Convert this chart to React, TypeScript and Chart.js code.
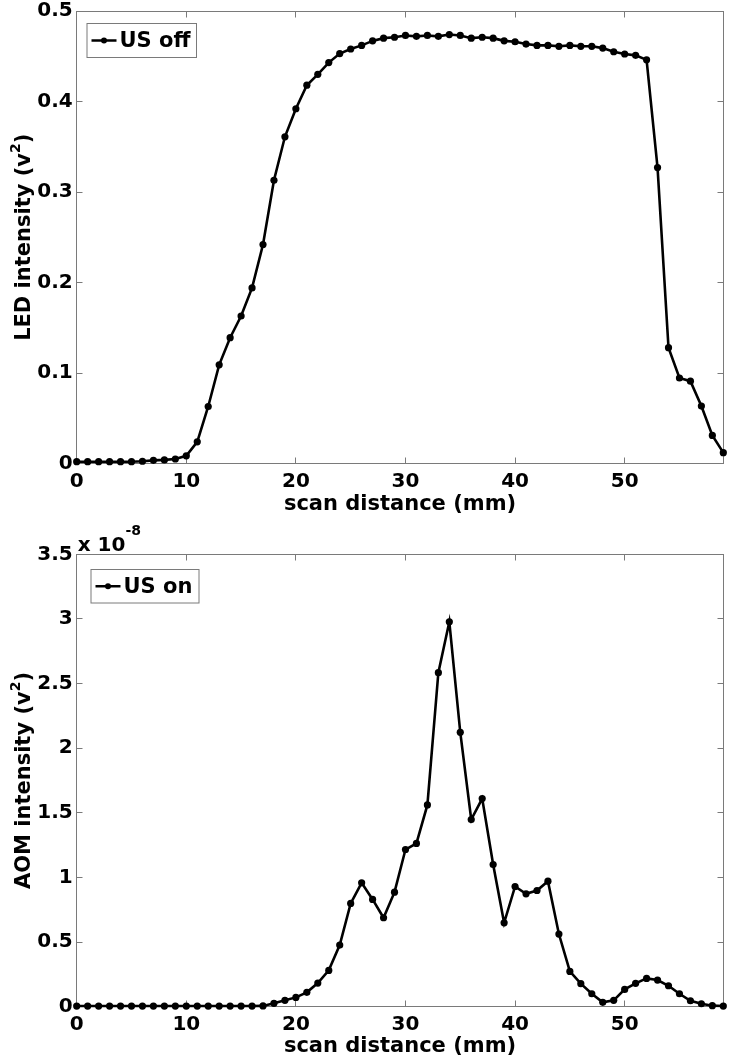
import React, { useEffect, useRef } from "react";
import { Chart, registerables } from "chart.js";

Chart.register(...registerables);

// ---------- data ----------
const scanDistanceMm = [
  0, 1, 2, 3, 4, 5, 6, 7, 8, 9, 10, 11, 12, 13, 14, 15, 16, 17, 18, 19,
  20, 21, 22, 23, 24, 25, 26, 27, 28, 29, 30, 31, 32, 33, 34, 35, 36, 37, 38, 39,
  40, 41, 42, 43, 44, 45, 46, 47, 48, 49, 50, 51, 52, 53, 54, 55, 56, 57, 58, 59,
];

// LED intensity (v^2), ultrasound off
const ledIntensityUsOff = [
  0.002, 0.002, 0.002, 0.002, 0.002, 0.002, 0.0025, 0.0035, 0.004, 0.005,
  0.0085, 0.024, 0.063, 0.109, 0.139, 0.163, 0.194, 0.242, 0.313, 0.361,
  0.392, 0.418, 0.43, 0.443, 0.453, 0.458, 0.462, 0.467, 0.47, 0.471,
  0.473, 0.472, 0.473, 0.472, 0.474, 0.473, 0.47, 0.471, 0.47, 0.467,
  0.466, 0.4635, 0.462, 0.462, 0.461, 0.462, 0.461, 0.461, 0.459, 0.455,
  0.4525, 0.451, 0.446, 0.327, 0.128, 0.0945, 0.091, 0.0635, 0.031, 0.012,
];

// AOM intensity (v^2) in units of 1e-8, ultrasound on
const aomIntensityUsOnE8 = [
  0.005, 0.005, 0.005, 0.005, 0.005, 0.005, 0.005, 0.005, 0.005, 0.005,
  0.005, 0.005, 0.005, 0.005, 0.005, 0.005, 0.005, 0.006, 0.026, 0.049,
  0.072, 0.111, 0.183, 0.281, 0.477, 0.799, 0.958, 0.83, 0.688, 0.886,
  1.216, 1.263, 1.561, 2.584, 2.978, 2.123, 1.448, 1.61, 1.1, 0.649,
  0.93, 0.873, 0.899, 0.971, 0.562, 0.273, 0.178, 0.1, 0.034, 0.049,
  0.134, 0.181, 0.219, 0.206, 0.162, 0.1, 0.046, 0.023, 0.008, 0.005,
];

const xTickValues = [0, 10, 20, 30, 40, 50];
const ledTickValues = [0, 0.1, 0.2, 0.3, 0.4, 0.5];
const aomTickValues = [0, 0.5, 1, 1.5, 2, 2.5, 3, 3.5];

const FONT = '"DejaVu Sans", "Liberation Sans", sans-serif';

type Part = { text: string; sup?: boolean };

function richWidth(ctx: CanvasRenderingContext2D, parts: Part[], size: number, supSize: number) {
  let w = 0;
  for (const p of parts) {
    ctx.font = `bold ${p.sup ? supSize : size}px ${FONT}`;
    w += ctx.measureText(p.text).width;
  }
  return w;
}

function drawRich(
  ctx: CanvasRenderingContext2D,
  parts: Part[],
  x: number,
  y: number,
  size: number,
  supSize: number,
  supRise: number,
  align: "center" | "left"
) {
  const w = richWidth(ctx, parts, size, supSize);
  let cx = align === "center" ? x - w / 2 : x;
  ctx.textAlign = "left";
  ctx.textBaseline = "alphabetic";
  for (const p of parts) {
    ctx.font = `bold ${p.sup ? supSize : size}px ${FONT}`;
    ctx.fillText(p.text, cx, p.sup ? y - supRise : y);
    cx += ctx.measureText(p.text).width;
  }
}

const matlabPlugin = {
  id: "matlabFrame",
  beforeDatasetsDraw(chart: any, _args: any, opts: any) {
    const { ctx, chartArea: a, scales } = chart;
    const L = Math.floor(a.left) + 0.5;
    const R = Math.floor(a.right) + 0.5;
    const T = Math.floor(a.top) + 0.5;
    const B = Math.floor(a.bottom) + 0.5;
    ctx.save();
    ctx.strokeStyle = "#7a7a7a";
    ctx.lineWidth = 1;
    ctx.strokeRect(L, T, R - L, B - T);
    const tl = 6;
    ctx.beginPath();
    for (const t of scales.x.ticks) {
      const px = Math.floor(scales.x.getPixelForValue(t.value)) + 0.5;
      if (px <= L + 1 || px >= R - 1) continue;
      ctx.moveTo(px, B);
      ctx.lineTo(px, B - tl);
      ctx.moveTo(px, T);
      ctx.lineTo(px, T + tl);
    }
    for (const t of scales.y.ticks) {
      const py = Math.floor(scales.y.getPixelForValue(t.value)) + 0.5;
      if (py <= T + 1 || py >= B - 1) continue;
      ctx.moveTo(L, py);
      ctx.lineTo(L + tl, py);
      ctx.moveTo(R, py);
      ctx.lineTo(R - tl, py);
    }
    ctx.stroke();
    ctx.restore();
  },
  afterDraw(chart: any, _args: any, opts: any) {
    const { ctx, chartArea: a } = chart;
    ctx.save();
    ctx.fillStyle = "#000";
    // y title (rotated)
    ctx.save();
    ctx.translate(opts.yTitleX, (a.top + a.bottom) / 2);
    ctx.rotate(-Math.PI / 2);
    drawRich(ctx, opts.yTitle, 0, 0, 21, 14, 10, "center");
    ctx.restore();
    // x title
    drawRich(ctx, opts.xTitle, (a.left + a.right) / 2, opts.xTitleY, 21, 14, 10, "center");
    // exponent label
    if (opts.exponent) {
      drawRich(ctx, opts.exponent, a.left + 1, a.top - 3, 20, 14, 16, "left");
    }
    // legend
    const lg = opts.legend;
    const ds = chart.data.datasets[0];
    ctx.fillStyle = "#ffffff";
    ctx.fillRect(lg.x, lg.y, lg.w, lg.h);
    ctx.strokeStyle = "#7a7a7a";
    ctx.lineWidth = 1;
    ctx.strokeRect(lg.x + 0.5, lg.y + 0.5, lg.w, lg.h);
    const cy = lg.y + lg.h / 2 + 0.5;
    ctx.strokeStyle = "#000";
    ctx.lineWidth = 2.5;
    ctx.beginPath();
    ctx.moveTo(lg.x + 5, cy);
    ctx.lineTo(lg.x + 30, cy);
    ctx.stroke();
    ctx.fillStyle = "#000";
    ctx.beginPath();
    ctx.arc(lg.x + 17.5, cy, 3, 0, Math.PI * 2);
    ctx.fill();
    ctx.font = `bold 21px ${FONT}`;
    ctx.textAlign = "left";
    ctx.textBaseline = "middle";
    ctx.fillText(ds.label, lg.x + 33, cy + 1);
    ctx.restore();
  },
};

function makeConfig(p: {
  label: string;
  values: number[];
  yMax: number;
  yTicks: number[];
  yFmt: (v: number) => string;
  padTop: number;
  padBottom: number;
  yTitle: Part[];
  xTitleY: number;
  exponent?: Part[];
  legend: { x: number; y: number; w: number; h: number };
}): any {
  const tickFont = { family: FONT, size: 20, weight: "bold" as const };
  return {
    type: "line",
    data: {
      labels: scanDistanceMm,
      datasets: [
        {
          label: p.label,
          data: scanDistanceMm.map((x, i) => ({ x, y: p.values[i] })),
          borderColor: "#000",
          backgroundColor: "#000",
          borderWidth: 2.6,
          pointRadius: 3.6,
          pointBorderWidth: 0,
          pointBackgroundColor: "#000",
          tension: 0,
          clip: 5,
        },
      ],
    },
    options: {
      responsive: false,
      animation: false,
      devicePixelRatio: 1,
      events: [],
      layout: { padding: { left: 0, right: 6.7, top: p.padTop, bottom: p.padBottom } },
      plugins: {
        legend: { display: false },
        tooltip: { enabled: false },
        matlabFrame: {
          yTitle: p.yTitle,
          yTitleX: 29.5,
          xTitle: [{ text: "scan distance (mm)" }],
          xTitleY: p.xTitleY,
          exponent: p.exponent,
          legend: p.legend,
        },
      },
      scales: {
        x: {
          type: "linear",
          min: 0,
          max: 59,
          grid: { display: false, drawTicks: false },
          border: { display: false },
          afterBuildTicks: (s: any) => {
            s.ticks = xTickValues.map((v) => ({ value: v }));
          },
          afterFit: (s: any) => {
            s.height = 40;
            s.paddingLeft = 0;
            s.paddingRight = 0;
          },
          ticks: {
            font: tickFont,
            color: "#000",
            padding: 6,
            maxRotation: 0,
            autoSkip: false,
            callback: (v: number) => String(v),
          },
        },
        y: {
          type: "linear",
          min: 0,
          max: p.yMax,
          grid: { display: false, drawTicks: false },
          border: { display: false },
          afterBuildTicks: (s: any) => {
            s.ticks = p.yTicks.map((v) => ({ value: v }));
          },
          afterFit: (s: any) => {
            s.width = 76.7;
            s.paddingTop = 0;
            s.paddingBottom = 0;
          },
          ticks: {
            font: tickFont,
            color: "#000",
            padding: 4,
            autoSkip: false,
            callback: (v: number) => p.yFmt(v),
          },
        },
      },
    },
    plugins: [matlabPlugin],
  };
}

function MatlabPlot({ height, config }: { height: number; config: () => any }) {
  const ref = useRef<HTMLCanvasElement>(null);
  useEffect(() => {
    const chart = new Chart(ref.current as HTMLCanvasElement, config());
    return () => chart.destroy();
  }, []);
  return (
    <canvas
      ref={ref}
      width={730}
      height={height}
      style={{ display: "block", width: 730, height }}
    />
  );
}

export default function App() {
  return (
    <div
      style={{
        position: "absolute",
        left: 0,
        top: 0,
        width: 730,
        height: 1064,
        background: "#fff",
      }}
    >
      <MatlabPlot
        height={520}
        config={() =>
          makeConfig({
            label: "US off",
            values: ledIntensityUsOff,
            yMax: 0.5,
            yTicks: ledTickValues,
            yFmt: (v) => (v === 0 ? "0" : v.toFixed(1)),
            padTop: 11,
            padBottom: 16.5,
            yTitle: [{ text: "LED intensity (v" }, { text: "2", sup: true }, { text: ")" }],
            xTitleY: 510,
            legend: { x: 86.5, y: 23, w: 109.5, h: 34 },
          })
        }
      />
      <MatlabPlot
        height={544}
        config={() =>
          makeConfig({
            label: "US on",
            values: aomIntensityUsOnE8,
            yMax: 3.5,
            yTicks: aomTickValues,
            yFmt: (v) => String(v),
            padTop: 34.3,
            padBottom: 17.3,
            yTitle: [{ text: "AOM intensity (v" }, { text: "2", sup: true }, { text: ")" }],
            xTitleY: 531.5,
            exponent: [{ text: "x 10" }, { text: "-8", sup: true }],
            legend: { x: 90.5, y: 49, w: 108, h: 33.5 },
          })
        }
      />
    </div>
  );
}
